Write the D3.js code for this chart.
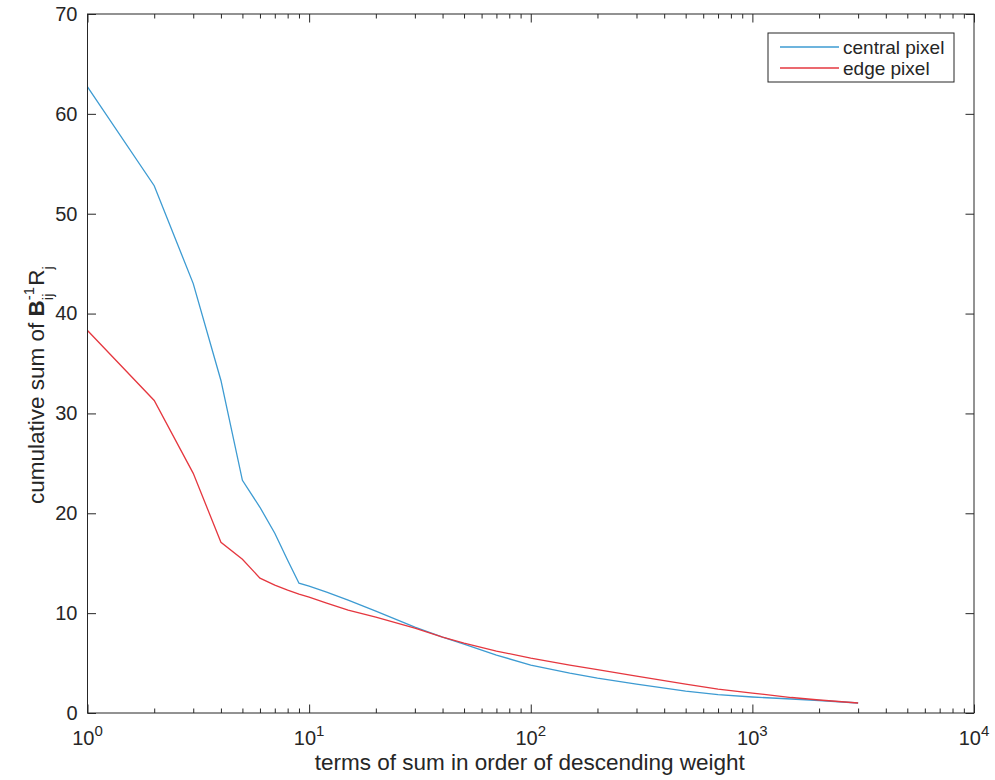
<!DOCTYPE html>
<html>
<head>
<meta charset="utf-8">
<script src="https://cdn.jsdelivr.net/npm/d3@7"></script>
<style>
  body { margin: 0; background: #fff; }
  text { font-family: "Liberation Sans", Arial, Helvetica, sans-serif; fill: #262626; }
</style>
</head>
<body>
<svg id="chart"></svg>
<script>
// data
const centralX = [1, 2, 3, 4, 5, 6, 7, 8, 9, 10, 12, 15, 20, 30, 40, 50, 70, 100, 150, 200, 300, 500, 700, 1000, 1500, 2000, 3000];
const centralY = [62.7, 52.8, 43.0, 33.3, 23.3, 20.6, 18.0, 15.3, 13.0, 12.7, 12.1, 11.3, 10.2, 8.6, 7.6, 6.9, 5.8, 4.8, 4.0, 3.5, 2.9, 2.2, 1.85, 1.6, 1.4, 1.25, 1.0];
const edgeX = [1, 2, 3, 4, 5, 6, 7, 8, 9, 10, 12, 15, 20, 30, 40, 50, 70, 100, 150, 200, 300, 500, 700, 1000, 1500, 2000, 3000];
const edgeY = [38.3, 31.3, 24.0, 17.1, 15.4, 13.5, 12.8, 12.3, 11.9, 11.6, 11.0, 10.3, 9.6, 8.5, 7.6, 7.0, 6.2, 5.5, 4.8, 4.35, 3.7, 2.9, 2.4, 2.0, 1.55, 1.3, 1.0];
const seriesNames = ["central pixel", "edge pixel"];
const yTicks = [0, 10, 20, 30, 40, 50, 60, 70];
const xMajor = [1, 10, 100, 1000, 10000];

const width = 995, height = 780;
const margin = {left: 87.5, top: 14, right: 21, bottom: 67};
const w = width - margin.left - margin.right;
const h = height - margin.top - margin.bottom;
const axisColor = "#262626";
const colors = ["#3d9bd2", "#e5373f"];

const svg = d3.select("#chart").attr("width", width).attr("height", height);
const g = svg.append("g").attr("transform", `translate(${margin.left},${margin.top})`);

const x = d3.scaleLog().domain([1, 10000]).range([0, w]);
const y = d3.scaleLinear().domain([0, 70]).range([h, 0]);

// minor log ticks
const xMinor = [];
xMajor.slice(0, -1).forEach(p => { for (let k = 2; k <= 9; k++) xMinor.push(p * k); });

// lines
const line = d3.line().x(d => x(d[0])).y(d => y(d[1]));
const series = [
  d3.zip(centralX, centralY),
  d3.zip(edgeX, edgeY)
];
g.selectAll(".series")
  .data(series)
  .enter().append("path")
  .attr("class", "series")
  .attr("d", line)
  .attr("fill", "none")
  .attr("stroke", (d, i) => colors[i])
  .attr("stroke-width", 1.3);

// box
g.append("rect")
  .attr("width", w).attr("height", h)
  .attr("fill", "none").attr("stroke", axisColor).attr("stroke-width", 1);

function styleAxis(sel) {
  sel.select(".domain").remove();
  sel.selectAll("line").attr("stroke", axisColor);
}

// x axis ticks (inward), bottom and top
g.append("g").attr("transform", `translate(0,${h})`)
  .call(d3.axisBottom(x).tickValues(xMinor).tickSize(-4.5).tickFormat(""))
  .call(styleAxis);
g.append("g").attr("transform", `translate(0,${h})`)
  .call(d3.axisBottom(x).tickValues(xMajor).tickSize(-8.5).tickFormat(""))
  .call(styleAxis);
g.append("g")
  .call(d3.axisTop(x).tickValues(xMinor).tickSize(-4.5).tickFormat(""))
  .call(styleAxis);
g.append("g")
  .call(d3.axisTop(x).tickValues(xMajor).tickSize(-8.5).tickFormat(""))
  .call(styleAxis);

// x tick labels 10^n
const xl = g.append("g").selectAll("text")
  .data(xMajor)
  .enter().append("text")
  .attr("x", d => x(d))
  .attr("y", h + 32)
  .attr("text-anchor", "middle")
  .style("font-size", "20px");
xl.append("tspan").text("10");
xl.append("tspan").text(d => Math.round(Math.log10(d)))
  .attr("dy", -9).style("font-size", "15px");

// y axis ticks (inward), left and right
g.append("g")
  .call(d3.axisLeft(y).tickValues(yTicks).tickSize(-8.5).tickPadding(10).tickFormat(d3.format("d")))
  .call(styleAxis)
  .call(a => a.selectAll("text").style("font-size", "20px").attr("fill", axisColor)
      .style("font-family", "'Liberation Sans', Arial, sans-serif"));
g.append("g").attr("transform", `translate(${w},0)`)
  .call(d3.axisRight(y).tickValues(yTicks).tickSize(-8.5).tickFormat(""))
  .call(styleAxis);

// x axis label
svg.append("text")
  .attr("x", margin.left + w / 2 - 1)
  .attr("y", 770)
  .attr("text-anchor", "middle")
  .style("font-size", "22.5px")
  .text("terms of sum in order of descending weight");

// y axis label with B^-1_ij R_j
const yl = svg.append("text")
  .attr("transform", "translate(44,504) rotate(-90)")
  .attr("text-anchor", "start")
  .style("font-size", "22.5px");
yl.append("tspan").text("cumulative sum of ");
yl.append("tspan").text("B").style("font-weight", "bold");
const sup = yl.append("tspan").text("-1").attr("dy", -10).style("font-size", "15px");
const sub = yl.append("tspan").text("ij").attr("dy", 19).style("font-size", "15px");
const rr = yl.append("tspan").text("R").attr("dy", -9);
yl.append("tspan").text("j").attr("dy", 9).style("font-size", "15px");
const supW = sup.node().getComputedTextLength();
const subW = sub.node().getComputedTextLength();
sub.attr("dx", -supW);
rr.attr("dx", Math.max(0, supW - subW) + 1);

// legend
const legend = svg.append("g").attr("transform", "translate(768,33)");
legend.append("rect")
  .attr("width", 186).attr("height", 49)
  .attr("fill", "#fff").attr("stroke", axisColor).attr("stroke-width", 1);
const items = legend.selectAll(".item")
  .data(seriesNames)
  .enter().append("g")
  .attr("transform", (d, i) => `translate(0,${14 + i * 21})`);
items.append("line")
  .attr("x1", 12).attr("x2", 71)
  .attr("stroke", (d, i) => colors[i]).attr("stroke-width", 1.3);
items.append("text")
  .attr("x", 75).attr("dy", "0.35em")
  .style("font-size", "19px")
  .text(d => d);
</script>
</body>
</html>
